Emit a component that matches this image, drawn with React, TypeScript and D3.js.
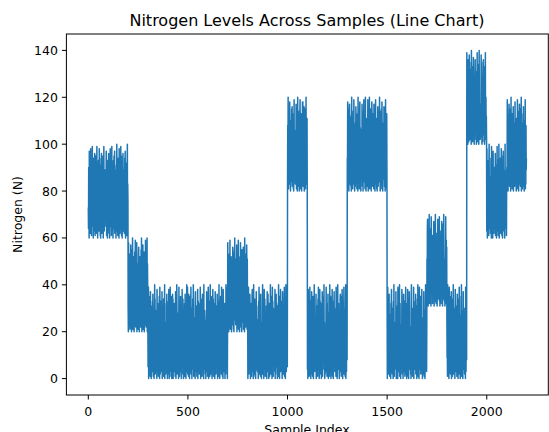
import React from "react";
import * as d3 from "d3";

// Nitrogen readings, 22 blocks of 100 samples; each char = offset from block minimum
const ALPHABET = "0123456789abcdefghijklmnopqrstuvwxyzABCDE";
const blockMins = [60, 60, 20, 0, 0, 0, 0, 20, 0, 0, 80, 0, 0, 80, 80, 0, 0, 31, 0, 100, 60, 80];
const blockCodes = [
  "d4ur0Bk8xa 2mC7hs1vg9 Dn5bq0yi3t e6Aw1lz8oc j2pD4fu0k7 rx9m3Cb5hs 1v0gy7An2e wqi6z0l4D8 3oct5j9pkf Bu1r6x0dma",
  "7gAe2wn0sk C5yb9i1qD3 f8mu0rx4hz 6lB2oj7ct0 pv3Ea9dk1y w5gn0Ci8s2 u7bD4mz1qf 0x6hA3rk9e t2oy8Bl0j5 c9wp1vE4ng",
  "a0Ck6v3mx1 s8dB2qh0z7 f4Eu1n9jw5 0b3yo8Dr2g i7lC0t5ek9 m1xA6p0s4h w9u2cz7En0 3jd8B1gr5q y0k6vo3Di8 2fa7mE0tl4",
  "5nD0hq8c2z w1B7gs0e6v k3x9Au1m4r 0j8Eoy2b7t f6ld0Cpi3w 9s1ka5zh0D u2gr8x7n3e B0mc6qv1y9 4tjE0w8fo2 l7d3Aks0b5",
  "o2x8Cf0k5s 1Dhm7b3zq0 e9uA4y0l6g r3wt8n1jB5 0ci7Ev2p9d k4s0mD6a1x h8gz3qo0u7 2Cr5fy9n0e b6lw1kA4t8 0js3ExdpD2",
  "m8b1Ae5r0w z3k7gD2o9u 0s4cyn6Ex1 h9qi2l0tB5 f3j8v1m7aC 0dx4wr9e2k s6Do0g3ub8 y1nA7h5cz0 E2l9tq4fi6 0pk3Bmx8v1",
  "b5Dq0n8h3x 1uE6f2lz9a k0t7sC4ym1 8gi3w0rB6e o2v9dj5Ak0 c7xm1hE3q8 0s4nz9bt2D f6l1ku0Cy5 a3r8wg0oi7 2EpjD5ev0m",
  "C2m7u0ax5k 9Dg1sb4wr0 e8hn3Az6l1 q0yt5Eci9f 3kv8oB0j2x m6dD1gw4s0 7ru2Ck9bn5 0zh4ye8lA1 t3fi0Eq6p9 2xoc7Bs1vd",
  "x0e6Dm2k9b 4Atr0h7wq1 g5zC3o8n0u E1j6syl2d9 0cfB4v7ia3 p8k0mx5Dt2 6wrh1Ae9g0 3bo7zE2n5q u0lC8jy4s1 9dk2vf0iB6",
  "h3Ao9c0w6s 1m8eE2q5zk 7b0tD4xg1u n6jr9l3C0y 2fiA7p5vd0 k8sw1Ee4bh 0zo6mC3qx9 5gt0jB8ur2 a4lyD1n7c0 e9Ek3w6fs5",
  "0s5Em1ky8d 3Cw9b0ru4h 6zgA2oj7t1 x0nD5qe8i3 lc7Bv1f4m0 9Eah2sk6y0 3pwD8u1g5x o0tb7CjC2n 4r9A0mde6z 1lhE3qi8v0",
  "4r0mCa8sy1 7hD3e9x0kq 2Bw5lu1gz6 0nt8Eo3fc9 j5iA0b7vd2 m1sy9Dh4r0 6kC2xe8w3l 0qg5Bz1ut7 a9nE4oj0f2 8c3pD6mi1k",
  "9w2Ad0h5ks 1eE8r3zm0b 6y4lCg1qj7 0x9tB5uo3n 8fc1Dv6ai0 2kE7s4wh9e 0mr3yA8lz5 1gb6Cxt0d4 q7jD2n9ou1 5pE0fi3vk8",
  "e7Cx1m4s0z 9Bk3dq8h2w 0uEa6lg1r5 y3oD9jn0c7 2t8Av5fb1i 6xm0Ek4sw9 h1zC7r3e0q 5dg9Bu2oy0 8lnD4ja6k1 3Ecf0tm7v9",
  "2n9Dg0w6r4 kE1am8s3zb 0h7Cy5q2lx 9fu1Bo4et0 6jD3ck8v1n 0i5Ax2r7gm 4wE9s0bd6y 1lz3Cp8k0h 7qt5Aue2f9 0oDm4j1cx8",
  "s0yD4e8k2n A5m1hr9b0w 3zC7gq2l6u 0tx8Ef1oj4 i9d5Ba0c7k 2vm0Dy6s3p 8hE1rw4n0g 5lb9Cz2u7e 0qfA3j8xt1 k6oD2i9m0c",
  "w1kC8d3r0y 6Bs4mg9e2a 0zE5ql7h1u n3oD0xf8j4 t9bA2c6iv0 5ky1Em3s8w 0gD7rl4hz2 9ux6Ceo0n5 2qa8Bj1dt7 0fmE4w9y3k",
  "k2yB7a0s4m 9De1hr6w3x 0Cz8gq5l1u 4ot9Ai0fj7 2nD6cb1ek8 v0s5Bm3yx9 7hC2r0wd4l 1gu8Aq6z0t 5eo3Dn9j2b 0ik7Cf1s4p",
  "o9c1Ex4k7m 0sD3w8ah2z 5gB0rq6l1y 9tE4j2f7nu 0dC8bv3i5k 1mA6ys0e9x 4wD2h7r0o3 8zlE1cg5qt 0jB9a4u6n2 7kf0Ds3pm8",
  "D3s8k0Ay5m 1eC7wr2bh9 6z0Eog4lq1 x8nB3tj0f7 2uA9cd5i0v 4mD1sk8wy3 0rE6hae2g9 7lC3zp0bn5 1tqA8u4xo0 9fjD2ek6c3",
  "3Cm0ax9s6k 1wE4hd7bq2 8yg0Dr3zl5 0oB6tn2ju9 e4cA1f8vi0 5kD3s9mx1w 7Eb0h4ry6g 2qlC8z1ae0 9uoB5nd3t7 0jE6kfm4s1",
  "8a1Dw5k0sm 3rB9e2yh6z 0gE4q7lc1x n5oA0j8ft3 2iC6u9bd0v k7m1Ds4wy8 0eh3Br6ag2 9zlE0c5qt1 4nx7Aj2o0u f8kD1m3s9e",
];
const yTicks = [0, 20, 40, 60, 80, 100, 120, 140];
const xTicks = [0, 500, 1000, 1500, 2000];

const nitrogen: number[] = [];
blockCodes.forEach((code, b) => {
  for (const ch of code.replace(/\s/g, "")) nitrogen.push(blockMins[b] + ALPHABET.indexOf(ch));
});

const W = 549;
const H = 432;
const L = 66.4, R = 548.3, T = 34, B = 395;
const FONT = "DejaVu Sans, sans-serif";

export default function App() {
  const n = nitrogen.length;
  const pad = (n - 1) * 0.05;
  const x = d3.scaleLinear().domain([-pad, n - 1 + pad]).range([L, R]);
  const y = d3.scaleLinear().domain([-7, 147]).range([B, T]);
  const line = d3
    .line<number>()
    .x((_, i) => x(i))
    .y((v) => y(v));
  return (
    <svg
      width={W}
      height={H}
      style={{ position: "absolute", left: 0, top: 0, background: "#fff" }}
      fontFamily={FONT}
    >
      <text x={307} y={26} textAnchor="middle" fontSize={16} fill="#000">
        Nitrogen Levels Across Samples (Line Chart)
      </text>
      <path
        d={line(nitrogen) || ""}
        fill="none"
        stroke="#1f77b4"
        strokeWidth={1.5}
        strokeLinejoin="round"
      />
      <rect x={L} y={T} width={R - L} height={B - T} fill="none" stroke="#000" strokeWidth={1} />
      {yTicks.map((t) => (
        <g key={"y" + t}>
          <line x1={L - 4.5} x2={L} y1={y(t)} y2={y(t)} stroke="#000" strokeWidth={1} />
          <text x={L - 8.5} y={y(t)} dy="0.36em" textAnchor="end" fontSize={12.5} fill="#000">
            {t}
          </text>
        </g>
      ))}
      {xTicks.map((t) => (
        <g key={"x" + t}>
          <line x1={x(t)} x2={x(t)} y1={B} y2={B + 4.5} stroke="#000" strokeWidth={1} />
          <text x={x(t)} y={B + 21} textAnchor="middle" fontSize={12.5} fill="#000">
            {t}
          </text>
        </g>
      ))}
      <text x={307} y={B + 39} textAnchor="middle" fontSize={12.5} fill="#000">
        Sample Index
      </text>
      <text
        transform={`translate(${22},${(T + B) / 2}) rotate(-90)`}
        textAnchor="middle"
        fontSize={12.5}
        fill="#000"
      >
        Nitrogen (N)
      </text>
    </svg>
  );
}
